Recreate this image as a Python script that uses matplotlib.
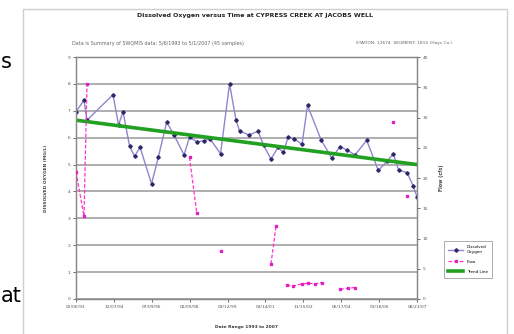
import matplotlib
matplotlib.use("Agg")
import matplotlib.pyplot as plt
import numpy as np
import pandas as pd
from matplotlib.patches import Rectangle

# sampling start and day offsets of each sample
start = pd.Timestamp("1993-05-06")
axis_days = 5220
tick_step = "580D"

do_day = [0, 122, 168, 566, 651, 720, 819, 896, 980, 1156, 1260, 1389, 1500,
          1653, 1738, 1848, 1952, 2052, 2212, 2350, 2450, 2503, 2649, 2786,
          2871, 2985, 3093, 3174, 3246, 3338, 3460, 3544, 3751, 3915, 4042,
          4141, 4271, 4450, 4628, 4757, 4858, 4937, 5068, 5159, 5220]
do_mgl = [6.96, 7.40, 6.65, 7.60, 6.48, 6.96, 5.70, 5.30, 5.65, 4.28, 5.28,
          6.58, 6.10, 5.36, 6.02, 5.85, 5.88, 5.96, 5.40, 8.00, 6.65, 6.25,
          6.10, 6.24, 5.72, 5.20, 5.65, 5.45, 6.02, 5.96, 5.75, 7.20, 5.92,
          5.24, 5.67, 5.55, 5.36, 5.90, 4.78, 5.12, 5.40, 4.80, 4.70, 4.22,
          3.80]

# None separates missing flow records
flow_day = [0, 122, 168, None, 1738, 1848, None, 2212, None, 2985, 3062, None,
            3226, 3327, 3456, 3557, 3659, 3762, None, 4042, 4169, 4271, None,
            4848, None, 5068]
flow_cfs = [21.0, 13.7, 35.5, None, 23.4, 14.2, None, 7.9, None, 5.8, 12.1, None,
            2.3, 2.15, 2.5, 2.6, 2.5, 2.7, None, 1.6, 1.8, 1.9, None,
            29.3, None, 17.0]

trend_day = [0, 5220]
trend_mgl = [6.65, 5.00]

do_dates = start + pd.to_timedelta(do_day, unit="D")
fl = pd.Series(flow_day, dtype=float)
flow_dates = start + pd.to_timedelta(fl, unit="D")
flow_vals = np.array([np.nan if v is None else v for v in flow_cfs])
trend_dates = start + pd.to_timedelta(trend_day, unit="D")
ticks = pd.date_range(start, periods=10, freq=tick_step)

fig = plt.figure(figsize=(5.14, 3.34), dpi=100)
fig.patch.set_facecolor("white")

# chart area border
fig.patches.append(Rectangle((23 / 514, -0.05), 484 / 514, 1 - 9 / 334 + 0.05,
                             transform=fig.transFigure, fill=False,
                             edgecolor="#cfcfcf", linewidth=1.0))

ax = fig.add_axes([0.1479, 0.1048, 0.6634, 0.7245])
ax2 = ax.twinx()

ax.set_ylim(0, 9)
ax.set_yticks(range(0, 10))
ax.grid(axis="y", color="#a8a8a8", linewidth=1.3)
ax.set_axisbelow(True)
ax.set_xlim(start, start + pd.Timedelta(days=axis_days))
ax.set_xticks(ticks)
ax.set_xticklabels([d.strftime("%m/%d/%y") for d in ticks])

l1, = ax.plot(do_dates, do_mgl, color="#8f86cc", linewidth=1.0, marker="D",
              markersize=1.8, markerfacecolor="#2a2a6a", markeredgecolor="#2a2a6a",
              label="Dissolved\nOxygen", zorder=3)
l3, = ax.plot(trend_dates, trend_mgl, color="#22a022", linewidth=2.6,
              label="Trend Line", zorder=4)

ax2.set_ylim(0, 40)
ax2.set_yticks(range(0, 45, 5))
l2, = ax2.plot(flow_dates, flow_vals, color="#ff33cc", linewidth=0.9,
               linestyle=(0, (3, 1.5)), marker="s", markersize=1.6,
               markerfacecolor="#e020c0", markeredgecolor="#e020c0",
               label="Flow", zorder=3)

for a in (ax, ax2):
    for s in a.spines.values():
        s.set_color("#888888")
        s.set_linewidth(0.9)
    a.tick_params(labelsize=3.2, colors="#555555", length=2, width=0.6, pad=2)

ax.set_ylabel("DISSOLVED OXYGEN (MG/L)", fontsize=3.2, color="#444444",
              fontweight="bold", labelpad=14)
ax2.set_ylabel("Flow (cfs)", fontsize=3.4, color="#444444",
               fontweight="bold", labelpad=8)
ax.set_xlabel("Date Range 1993 to 2007", fontsize=3.2, color="#333333",
              fontweight="bold", labelpad=12)

fig.text(255 / 514, 1 - 15 / 334, "Dissolved Oxygen versus Time at CYPRESS CREEK AT JACOBS WELL",
         ha="center", va="center", fontsize=4.5, fontweight="bold", color="#222222")
fig.text(72 / 514, 1 - 43 / 334, "Data is Summary of SWQMIS data: 5/6/1993 to 5/1/2007 (45 samples)",
         ha="left", va="center", fontsize=3.5, color="#666666")
fig.text(452 / 514, 1 - 43 / 334, "STATION: 12674  SEGMENT: 1815 (Hays Co.)",
         ha="right", va="center", fontsize=3.2, color="#666666")

# page text cut off at left of the picture
fig.text(1 / 514, 1 - 62 / 334, "s", ha="left", va="center", fontsize=15, color="black")
fig.text(1 / 514, 1 - 296 / 334, "at", ha="left", va="center", fontsize=15, color="black")

leg = fig.legend(handles=[l1, l2, l3], loc="upper left",
                 bbox_to_anchor=(442 / 514, 1 - 239 / 334), fontsize=3.0,
                 frameon=True, fancybox=False, edgecolor="#888888",
                 handlelength=3.6, borderpad=1.0, labelspacing=1.4)
leg.get_frame().set_linewidth(0.6)

fig.savefig("out.png", dpi=100)
